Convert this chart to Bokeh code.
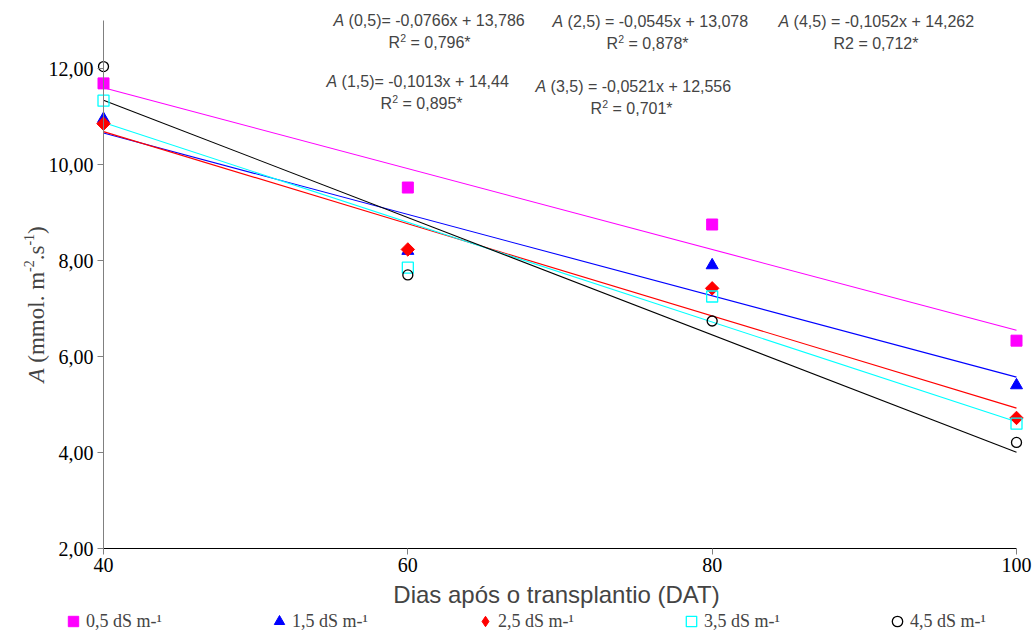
import math
import numpy as np
from bokeh.plotting import figure
from bokeh.models import Range1d, FixedTicker, Label, Legend, LegendItem
from bokeh.embed import file_html
from bokeh.resources import INLINE

# ---------------- data ----------------
days = [40, 60, 80, 100]
a_05 = [11.69, 9.52, 8.75, 6.33]
a_15 = [10.95, 8.20, 7.90, 5.40]
a_25 = [10.85, 8.23, 7.42, 4.72]
a_35 = [11.33, 7.85, 7.25, 4.60]
a_45 = [12.04, 7.70, 6.74, 4.21]

legend_labels = ["0,5 dS m-¹", "1,5 dS m-¹", "2,5 dS m-¹", "3,5 dS m-¹", "4,5 dS m-¹"]
x_ticks = [40, 60, 80, 100]
y_ticks = [2, 4, 6, 8, 10, 12]
y_tick_labels = ["2,00", "4,00", "6,00", "8,00", "10,00", "12,00"]

eq_texts = ["(0,5)= -0,0766x + 13,786", "(1,5)= -0,1013x + 14,44",
            "(2,5) = -0,0545x + 13,078", "(3,5) = -0,0521x + 12,556",
            "(4,5) = -0,1052x + 14,262"]
r2_texts = ["= 0,796*", "= 0,895*", "= 0,878*", "= 0,701*", "= 0,712*"]
r2_superscript = [True, True, True, True, False]

x_title = "Dias após o transplantio (DAT)"

# ---------------- styles ----------------
series = [a_05, a_15, a_25, a_35, a_45]
colors = ["#FF00FF", "#0000FF", "#FF0000", "#00FFFF", "#000000"]
markers = ["square", "triangle", "square", "square", "circle"]
legend_markers = ["square", "triangle", "diamond", "square", "circle"]
angles = [0, 0, math.pi / 4, 0, 0]
sizes = [11, 12, 9.5, 11, 10]
fills = ["#FF00FF", "#0000FF", "#FF0000", None, None]

W, H = 1034, 633
# page pixel of x=40 / x=100 and of y=2 / y=12
PX40, PX100, PY2, PY12 = 103, 1016, 548, 68
xs_per_px = 60.0 / (PX100 - PX40)
ys_per_px = 10.0 / (PY2 - PY12)
x0 = 40 - PX40 * xs_per_px
x1 = 100 + (W - PX100) * xs_per_px
y1 = 2 + PY2 * ys_per_px
y0 = 2 - (H - PY2) * ys_per_px


def fx(x):
    return x


def fy(y):
    return H - y


p = figure(width=W, height=H, output_backend="svg", toolbar_location=None,
           x_range=Range1d(x0, x1), y_range=Range1d(y0, y1),
           min_border=0, min_border_left=0, min_border_right=0,
           min_border_top=0, min_border_bottom=0)
p.title.visible = False
p.outline_line_color = None
p.grid.visible = False
p.background_fill_color = "white"
p.border_fill_color = "white"

# axes placed at fixed data locations so the frame covers the whole canvas
p.xaxis.fixed_location = 2
p.yaxis.fixed_location = 40
p.xaxis.bounds = (40, 100)
p.yaxis.bounds = (2, 13)
p.xaxis.ticker = FixedTicker(ticks=x_ticks)
p.yaxis.ticker = FixedTicker(ticks=y_ticks)
p.yaxis.major_label_overrides = {t: l for t, l in zip(y_ticks, y_tick_labels)}
for ax in (p.xaxis, p.yaxis):
    ax.minor_tick_line_color = None
    ax.major_tick_in = 0
    ax.major_tick_out = 6
    ax.major_label_text_font = "Liberation Serif"
    ax.major_label_text_font_size = "20px"
    ax.major_label_text_color = "black"
p.yaxis.axis_line_color = "#808080"
p.yaxis.major_tick_line_color = "#808080"
p.yaxis.major_label_standoff = 4
p.xaxis.axis_line_color = "black"
p.xaxis.major_tick_line_color = "#808080"
p.xaxis.major_label_standoff = 3

# x-axis title
p.add_layout(Label(x=fx(556), y=fy(594), x_units="screen", y_units="screen",
                   text=x_title, text_font="Liberation Sans", text_font_size="24px",
                   text_baseline="middle", text_align="center"))

# fitted lines
for vals, c in zip(series, colors):
    coef = np.polyfit(days, vals, 1)
    xs = [days[0], days[-1]]
    p.line(xs, list(np.polyval(coef, xs)), line_color=c, line_width=1.1)

# markers
items = []
for vals, c, m, lm, s, f, a, lab in zip(series, colors, markers, legend_markers, sizes,
                                         fills, angles, legend_labels):
    lw = 1.3 if f is None else 1
    r = p.scatter(days, vals, marker=m, size=s, angle=a, line_color=c, fill_color=f,
                  line_width=lw)
    if lm != m:
        # hidden proxy of the same series so the legend shows a diamond symbol
        r = p.scatter(days, vals, marker=lm, size=s, line_color=c, fill_color=f,
                      line_width=lw, visible=False)
    items.append(LegendItem(label=lab, renderers=[r]))

legend = Legend(items=items, orientation="horizontal", location=(fx(60), fy(634)),
                padding=0, margin=0, spacing=0, glyph_width=26, glyph_height=26,
                label_standoff=0, label_width=180, label_height=18,
                label_text_font="Liberation Serif", label_text_font_size="18px",
                border_line_color=None, background_fill_alpha=0,
                click_policy="none")
p.add_layout(legend)

# equations
eq_pos = [(333, 20), (326, 81), (552, 21), (535, 86), (778, 21)]
r2_pos = [(388, 42), (380, 103), (606, 43), (590, 108), (833, 43)]
EQF = "16px"
for (ex, ey), txt in zip(eq_pos, eq_texts):
    p.add_layout(Label(x=fx(ex), y=fy(ey), x_units="screen", y_units="screen",
                       text="A", text_font="Liberation Sans", text_font_size=EQF,
                       text_font_style="italic", text_baseline="middle", text_align="left"))
    p.add_layout(Label(x=fx(ex) + 15.1, y=fy(ey), x_units="screen", y_units="screen",
                       text=txt, text_font="Liberation Sans", text_font_size=EQF,
                       text_baseline="middle", text_align="left"))
for (rx, ry), txt, sup in zip(r2_pos, r2_texts, r2_superscript):
    if sup:
        p.add_layout(Label(x=fx(rx), y=fy(ry), x_units="screen", y_units="screen",
                           text="R", text_font="Liberation Sans", text_font_size=EQF,
                           text_baseline="middle", text_align="left"))
        p.add_layout(Label(x=fx(rx) + 11.8, y=fy(ry) + 5, x_units="screen", y_units="screen",
                           text="2", text_font="Liberation Sans", text_font_size="10.5px",
                           text_baseline="middle", text_align="left"))
        p.add_layout(Label(x=fx(rx) + 22, y=fy(ry), x_units="screen", y_units="screen",
                           text=txt, text_font="Liberation Sans", text_font_size=EQF,
                           text_baseline="middle", text_align="left"))
    else:
        p.add_layout(Label(x=fx(rx), y=fy(ry), x_units="screen", y_units="screen",
                           text="R2 " + txt, text_font="Liberation Sans", text_font_size=EQF,
                           text_baseline="middle", text_align="left"))

# rotated y-axis title pieces: (text, offset along axis, superscript?, italic?)
yt_parts = [("A", 0, False, True), ("(mmol. m", 19.8, False, False), ("-2", 110.5, True, False),
            (".s", 122.2, False, False), ("-1", 136.9, True, False), (")", 148.6, False, False)]
base_x = fx(36)
start_y = fy(382)
for txt, off, sup, ital in yt_parts:
    p.add_layout(Label(x=base_x - (8 if sup else 0), y=start_y + off,
                       x_units="screen", y_units="screen", angle=math.pi / 2,
                       text=txt, text_font="Liberation Serif",
                       text_font_size="14px" if sup else "23px",
                       text_font_style="italic" if ital else "normal",
                       text_baseline="alphabetic", text_align="left"))

open("out.html", "w").write(file_html(p, INLINE))
